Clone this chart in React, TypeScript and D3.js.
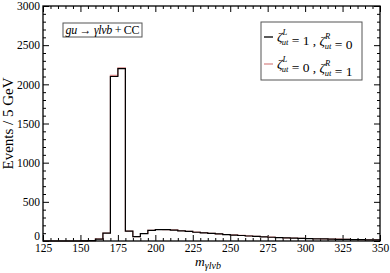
import React, { useRef, useEffect } from "react";
import * as d3 from "d3";

// bin lower edges, 5 GeV wide
const binEdges = d3.range(125, 350, 5);
const ccLeft = [
  0, 0, 0, 0, 0, 2, 5, 25, 100, 2100, 2200, 125, 55, 95, 135, 145, 145, 140, 130, 122,
  112, 105, 97, 90, 82, 76, 70, 64, 58, 53, 48, 44, 40, 37, 34, 31, 28, 26, 24, 22,
  20, 18, 17, 15, 14,
];
const ccRight = [
  0, 0, 0, 0, 0, 2, 5, 26, 102, 2115, 2212, 127, 56, 96, 137, 147, 146, 141, 131, 123,
  113, 106, 98, 91, 83, 77, 71, 65, 59, 54, 49, 45, 41, 38, 35, 32, 29, 27, 25, 23,
  21, 19, 18, 16, 15,
];
const xTicks = [125, 150, 175, 200, 225, 250, 275, 300, 325, 350];
const yTicks = [0, 500, 1000, 1500, 2000, 2500, 3000];

const W = 390;
const H = 273;

const App = () => {
  const ref = useRef<SVGSVGElement>(null);

  useEffect(() => {
    const margin = { top: 6, right: 10, bottom: 32, left: 43 };
    const svg = d3.select(ref.current);
    svg.selectAll("*").remove();

    const x = d3.scaleLinear().domain([125, 350]).range([margin.left, W - margin.right]);
    const y = d3.scaleLinear().domain([0, 3000]).range([H - margin.bottom, margin.top]);
    const font = "Liberation Serif, DejaVu Serif, serif";

    const xMinor = d3.range(125, 351, 5).filter((v) => v % 25 !== 0);
    const yMinor = d3.range(0, 3001, 100).filter((v) => v % 500 !== 0);

    const axis = (g: any, a: any) => {
      g.call(a);
      g.attr("font-family", font);
      g.select(".domain").remove();
      g.selectAll("line").attr("stroke", "#000").attr("stroke-width", 1);
      g.selectAll("text").attr("font-family", font).attr("font-size", 11.5).attr("fill", "#000");
    };

    // bottom
    svg.append("g").attr("transform", `translate(0,${y(0)})`)
      .call((g) => axis(g, d3.axisBottom(x).tickValues(xTicks).tickSize(-6).tickPadding(3).tickFormat(d3.format("d"))));
    svg.append("g").attr("transform", `translate(0,${y(0)})`)
      .call((g) => axis(g, d3.axisBottom(x).tickValues(xMinor).tickSize(-3).tickFormat(() => "")));
    // top
    svg.append("g").attr("transform", `translate(0,${y(3000)})`)
      .call((g) => axis(g, d3.axisTop(x).tickValues(xTicks).tickSize(-6).tickFormat(() => "")));
    svg.append("g").attr("transform", `translate(0,${y(3000)})`)
      .call((g) => axis(g, d3.axisTop(x).tickValues(xMinor).tickSize(-3).tickFormat(() => "")));
    // left
    svg.append("g").attr("transform", `translate(${x(125)},0)`)
      .call((g) => axis(g, d3.axisLeft(y).tickValues(yTicks).tickSize(-6).tickPadding(3).tickFormat(d3.format("d"))));
    svg.append("g").attr("transform", `translate(${x(125)},0)`)
      .call((g) => axis(g, d3.axisLeft(y).tickValues(yMinor).tickSize(-3).tickFormat(() => "")));
    // right
    svg.append("g").attr("transform", `translate(${x(350)},0)`)
      .call((g) => axis(g, d3.axisRight(y).tickValues(yTicks).tickSize(-6).tickFormat(() => "")));
    svg.append("g").attr("transform", `translate(${x(350)},0)`)
      .call((g) => axis(g, d3.axisRight(y).tickValues(yMinor).tickSize(-3).tickFormat(() => "")));

    // "0" label sits above the axis, clear of the "125" below it
    svg.selectAll("text").filter(function () { return d3.select(this).text() === "0"; })
      .attr("dy", "-0.12em");

    // histograms
    const step = d3.line<[number, number]>()
      .x((d) => x(d[0]))
      .y((d) => y(d[1]))
      .curve(d3.curveStepAfter);
    const pts = (vals: number[]) => {
      const p: [number, number][] = binEdges.map((e, i) => [e, vals[i]]);
      p.push([350, vals[vals.length - 1]]);
      return p;
    };
    svg.append("path").attr("d", step(pts(ccRight))).attr("fill", "none")
      .attr("stroke", "#d98c8c").attr("stroke-width", 1.2);
    svg.append("path").attr("d", step(pts(ccLeft))).attr("fill", "none")
      .attr("stroke", "#000").attr("stroke-width", 1.2);

    // frame
    svg.append("rect")
      .attr("x", x(125)).attr("y", y(3000))
      .attr("width", x(350) - x(125)).attr("height", y(0) - y(3000))
      .attr("fill", "none").attr("stroke", "#000").attr("stroke-width", 1.3);

    // process label
    svg.append("rect").attr("x", 63).attr("y", 23).attr("width", 79).attr("height", 14)
      .attr("fill", "#fff").attr("stroke", "#555").attr("stroke-width", 1);
    const proc = svg.append("text").attr("x", 102.5).attr("y", 34).attr("text-anchor", "middle")
      .attr("font-family", font).attr("font-size", 12).attr("textLength", 74);
    proc.append("tspan").attr("font-style", "italic").text("gu");
    proc.append("tspan").text(" \u2192 ");
    proc.append("tspan").attr("font-style", "italic").text("\u03b3l\u03bdb");
    proc.append("tspan").text(" + CC");

    // legend
    svg.append("rect").attr("x", 261).attr("y", 22).attr("width", 101).attr("height", 58)
      .attr("fill", "#fff").attr("stroke", "#555").attr("stroke-width", 1);
    const entries = [
      { color: "#000", a: "1", b: "0", yy: 37 },
      { color: "#d98c8c", a: "0", b: "1", yy: 64 },
    ];
    entries.forEach((e) => {
      svg.append("line").attr("x1", 264).attr("x2", 273).attr("y1", e.yy).attr("y2", e.yy)
        .attr("stroke", e.color).attr("stroke-width", 1.3);
      const t = svg.append("text").attr("x", 277).attr("y", e.yy + 4)
        .attr("font-family", font).attr("font-size", 13.5);
      const zeta = (sup: string) => {
        t.append("tspan").attr("font-style", "italic").text("\u03b6");
        t.append("tspan").attr("font-size", 8.5).attr("font-style", "italic").attr("dy", -6).text(sup);
        t.append("tspan").attr("font-size", 8.5).attr("font-style", "italic").attr("dx", -5.5).attr("dy", 10).text("ut");
        t.append("tspan").attr("dy", -4).text("");
      };
      zeta("L");
      t.append("tspan").text(` = ${e.a} , `);
      zeta("R");
      t.append("tspan").text(` = ${e.b}`);
    });

    // axis titles
    svg.append("text")
      .attr("transform", `translate(13,${(y(0) + y(3000)) / 2}) rotate(-90)`)
      .attr("text-anchor", "middle").attr("font-family", font).attr("font-size", 15)
      .text("Events / 5 GeV");
    const xt = svg.append("text").attr("x", 208).attr("y", 266).attr("text-anchor", "middle")
      .attr("font-family", font).attr("font-size", 13.5).attr("font-style", "italic");
    xt.append("tspan").text("m");
    xt.append("tspan").attr("font-size", 10).attr("dy", 3).text("\u03b3l\u03bdb");
  }, []);

  return (
    <svg ref={ref} width={W} height={H} style={{ position: "absolute", left: 0, top: 0, background: "#fff" }} />
  );
};

export default App;
